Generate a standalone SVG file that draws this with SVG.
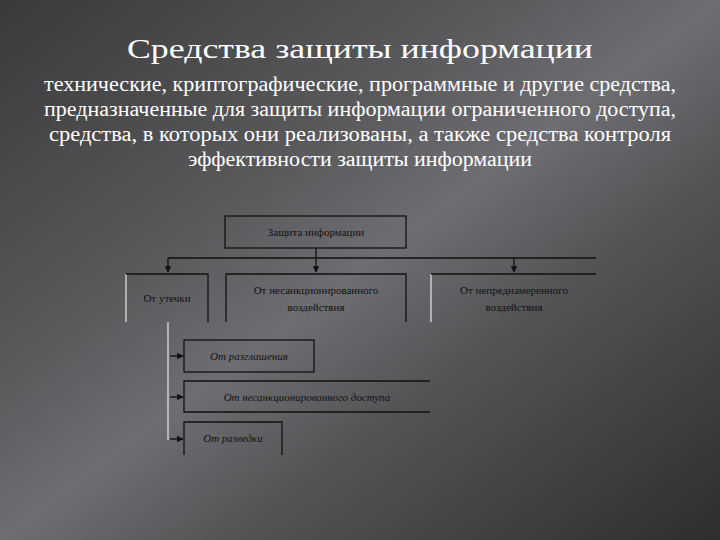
<svg xmlns="http://www.w3.org/2000/svg" width="720" height="540" viewBox="0 0 720 540">
<defs>
<linearGradient id="bg" x1="0" y1="0" x2="1" y2="1">
<stop offset="0" stop-color="#3a3a3c"/>
<stop offset="0.35" stop-color="#5a5a5d"/>
<stop offset="0.5" stop-color="#6e6e72"/>
<stop offset="0.65" stop-color="#555558"/>
<stop offset="1" stop-color="#2e2e30"/>
</linearGradient>
<marker id="ar" viewBox="0 0 10 10" refX="9" refY="5" markerWidth="5" markerHeight="5" orient="auto"><path d="M0,0L10,5L0,10z" fill="#111"/></marker>
<style>
.t{font-family:'Liberation Serif','Times New Roman','DejaVu Serif',serif;fill:#fff}
.s{font-family:'Liberation Serif','Times New Roman','DejaVu Serif',serif;fill:#111;font-size:11px;text-anchor:middle}
.b{fill:none;stroke:#111;stroke-width:1.3}
.w{stroke:#ddd;stroke-width:1.3;fill:none}
.c{stroke:#111;stroke-width:1.3;fill:none}
</style>
</defs>
<rect width="720" height="540" fill="url(#bg)"/>
<text class="t" x="360" y="58" font-size="28" text-anchor="middle" textLength="466" lengthAdjust="spacingAndGlyphs">Средства защиты информации</text>
<g class="t" font-size="20" text-anchor="middle">
<text x="360" y="91" textLength="632" lengthAdjust="spacingAndGlyphs">технические, криптографические, программные и другие средства,</text>
<text x="360" y="116" textLength="632" lengthAdjust="spacingAndGlyphs">предназначенные для защиты информации ограниченного доступа,</text>
<text x="360" y="141" textLength="622" lengthAdjust="spacingAndGlyphs">средства, в которых они реализованы, а также средства контроля</text>
<text x="360" y="166" textLength="344" lengthAdjust="spacingAndGlyphs">эффективности защиты информации</text>
</g>
<g id="connectors">
<path class="c" d="M316,248V258M168,258H596"/>
<path class="c" d="M168,258V272" marker-end="url(#ar)"/>
<path class="c" d="M316,258V272" marker-end="url(#ar)"/>
<path class="c" d="M514,258V272" marker-end="url(#ar)"/>
<path class="w" d="M168,322V440"/>
<path class="c" d="M170,356H183" marker-end="url(#ar)"/>
<path class="c" d="M170,397H183" marker-end="url(#ar)"/>
<path class="c" d="M170,439H183" marker-end="url(#ar)"/>
</g>
<g id="n0"><rect class="b" x="225" y="216" width="181" height="32"/><text class="s" x="316" y="236">Защита информации</text></g>
<g id="n1"><path class="w" d="M126,274V322"/><path class="b" d="M126,274H208V322"/><text class="s" x="167" y="302">От утечки</text></g>
<g id="n2"><path class="b" d="M226,322V274H406V322"/><text class="s" x="316" y="294">От несанкционированного</text><text class="s" x="316" y="311">воздействия</text></g>
<g id="n3"><path class="w" d="M431,274V322"/><path class="b" d="M431,274H596"/><text class="s" x="514" y="294">От непреднамеренного</text><text class="s" x="514" y="311">воздействия</text></g>
<g id="n4"><rect class="b" x="184" y="340" width="130" height="32"/><text class="s" x="249" y="360" font-style="italic">От разглашения</text></g>
<g id="n5"><path class="b" d="M430,381H184V412H430"/><text class="s" x="307" y="401" font-style="italic">От несанкционированного доступа</text></g>
<g id="n6"><path class="b" d="M184,455V422H282V455"/><text class="s" x="233" y="442" font-style="italic">От разведки</text></g>
</svg>
